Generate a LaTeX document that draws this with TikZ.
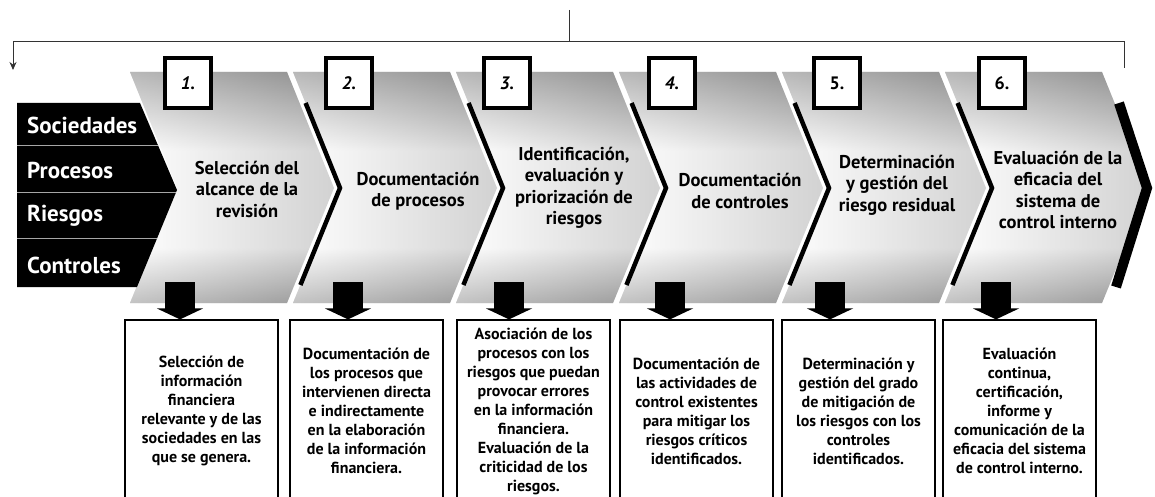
\documentclass[tikz,border=0pt]{standalone}
\usepackage{fontspec}
\setmainfont{PT Sans}
\usetikzlibrary{positioning,arrows.meta}

\colorlet{chevtop}{black!42}
\colorlet{chevbot}{black!36}
\pgfdeclareverticalshading{chevshade}{100bp}{color(0bp)=(chevbot); color(25bp)=(chevbot); color(37bp)=(white); color(58bp)=(white); color(75bp)=(chevtop); color(100bp)=(chevtop)}

\begin{document}
\begin{tikzpicture}[x=1pt, y=-1pt, line join=miter,
    numbox/.style = {draw, line width=3.5pt, fill=white, minimum width=46pt, minimum height=50pt, inner sep=0pt, font=\bfseries\fontsize{18}{20}\selectfont},
    stage/.style = {align=center, font=\bfseries\fontsize{18.5}{21.5}\selectfont},
    detbox/.style = {draw, line width=1.2pt, fill=white, minimum width=153pt, minimum height=182pt, inner sep=1pt, align=center, font=\bfseries\fontsize{16}{19}\selectfont},
    rowlab/.style = {anchor=west, text=white, inner sep=0pt, font=\bfseries\fontsize{23}{24}\selectfont},
    edge/.style = {line width=4.5pt},
    feed/.style = {line width=1pt, black!80},
    down/.style = {line width=30pt, -{Triangle[width=46pt, length=11pt]}}]

\useasboundingbox (0,0) rectangle (1155,497);

% chevrons
\foreach \i in {0,...,5} {
  \pgfmathsetmacro\xa{130+163*\i}
  \shade[shading=chevshade] (\xa,72) -- ++(157,0) -- ++(47,116) -- ++(-47,115) -- ++(-157,0) -- ++(47,-115) -- cycle;
  \shade[left color=white, right color=black!50, opacity=0.35] (\xa,72) -- ++(157,0) -- ++(47,116) -- ++(-47,115) -- ++(-157,0) -- ++(47,-115) -- cycle;
}
\foreach \i in {1,...,5} {
  \pgfmathsetmacro\xa{130+163*\i}
  \draw[edge] (\xa+12.6,103) -- (\xa+47,188) -- (\xa+7.4,285);
}
\draw[line width=10pt] (1119,103) -- (1147,188) -- (1116,287);

% row labels
\fill (17,103) -- (140,103) -- (177,190) -- (137,287) -- (17,287) -- cycle;
\draw[gray!70, line width=1pt] (17,146) -- (158,146) (17,192) -- (176,192) (17,238) -- (157,238);
\node[rowlab] (soc) at (27,125) {Sociedades};
\node[rowlab] (pro) at (27,170) {Procesos};
\node[rowlab] (rie) at (27,216) {Riesgos};
\node[rowlab] (con) at (27,265) {Controles};

% step numbers
\foreach \n/\x/\f in {1/188/\itshape, 2/349/\itshape, 3/507/\itshape, 4/672/\itshape, 5/837/\upshape, 6/1002/\upshape}
  \node[numbox] (n\n) at (\x,83) {\f\n.};

% stage texts
\node[stage] (s1) at (247,189) {Selección del\\alcance de la\\revisión};
\node[stage] (s2) at (418,191) {Documentación\\de procesos};
\node[stage] (s3) at (574,188) {Identificación,\\evaluación y\\priorización de\\riesgos};
\node[stage] (s4) at (740,191) {Documentación\\de controles};
\node[stage] (s5) at (897,185) {Determinación\\y gestión del\\riesgo residual};
\node[stage] (s6) at (1058,190) {Evaluación de la\\eficacia del\\sistema de\\control interno};

% detail boxes
\node[detbox] (d1) at (201.5,411) {Selección de\\información\\financiera\\relevante y de las\\sociedades en las\\que se genera.};
\node[detbox] (d2) at (366.5,411) {Documentación de\\los procesos que\\intervienen directa\\e indirectamente\\en la elaboración\\de la información\\financiera.};
\node[detbox] (d3) at (533.5,411) {Asociación de los\\procesos con los\\riesgos que puedan\\provocar errores\\en la información\\financiera.\\Evaluación de la\\criticidad de los\\riesgos.};
\node[detbox] (d4) at (696.5,411) {Documentación de\\las actividades de\\control existentes\\para mitigar los\\riesgos críticos\\identificados.};
\node[detbox] (d5) at (858.5,411) {Determinación y\\gestión del grado\\de mitigación de\\los riesgos con los\\controles\\identificados.};
\node[detbox] (d6) at (1019.5,411) {Evaluación\\continua,\\certificación,\\informe y\\comunicación de la\\eficacia del sistema\\de control interno.};

% arrows down
\foreach \n/\x in {1/180, 2/348, 3/509, 4/670, 5/830, 6/996} {
  \coordinate (a\n) at (\x,282);
  \draw[down] (a\n) -- (a\n |- d\n.north);
}

% feedback line
\coordinate (src) at (569,10);
\coordinate (hub) at (569,42);
\coordinate (lft) at (13,42);
\coordinate (rgt) at (1124,42);
\coordinate (rend) at (1124,68);
\coordinate (lend) at (13,70);
\draw[feed] (src) -- (hub);
\draw[feed, -{Stealth[length=8pt, width=7pt]}] (rend) -- (rgt) -- (lft) -- (lend);

\end{tikzpicture}
\end{document}
